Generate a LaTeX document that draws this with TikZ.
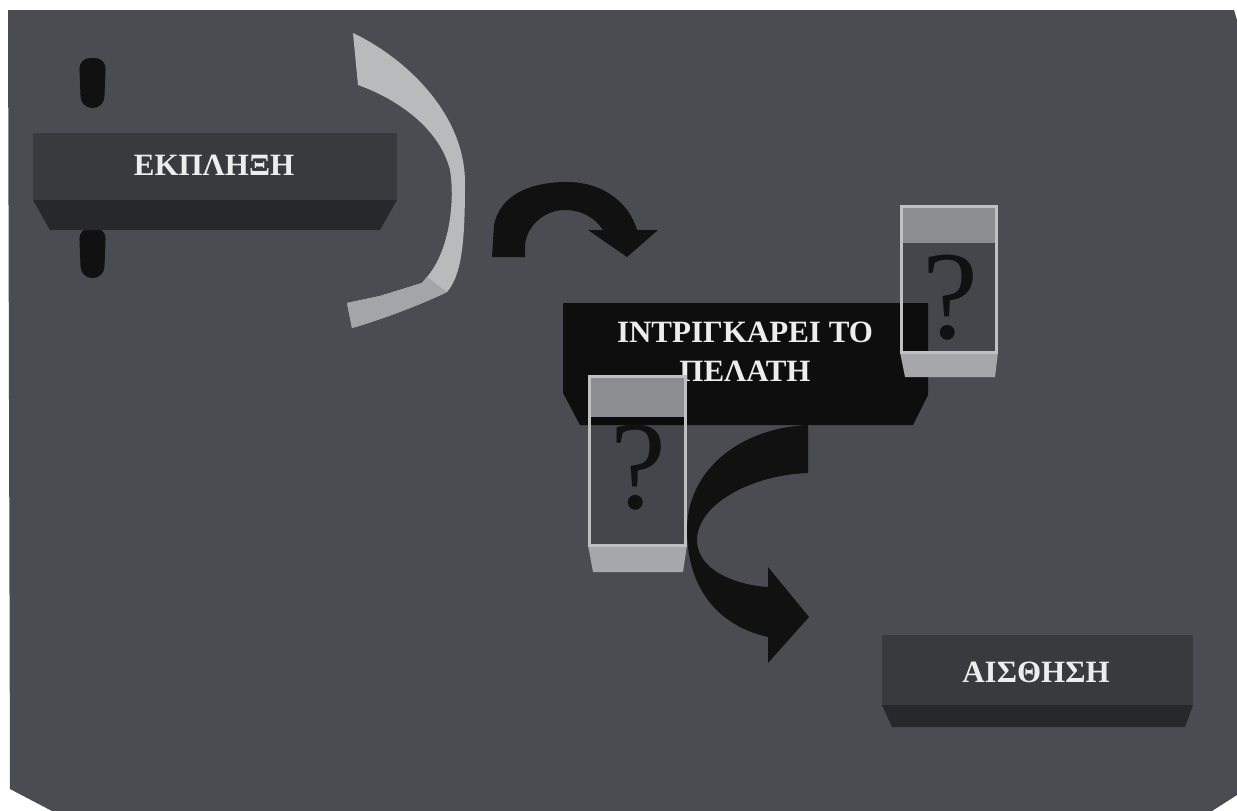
\documentclass[tikz,border=0pt]{standalone}
\usepackage{fontspec}
\setmainfont{Liberation Serif}
\definecolor{panel}{HTML}{4A4C52}
\definecolor{boxtop}{HTML}{393A3E}
\definecolor{boxbev}{HTML}{27282B}
\definecolor{ribbon}{HTML}{B9BABC}
\definecolor{ribbondk}{HTML}{A4A5A8}
\definecolor{qborder}{HTML}{BFC0C2}
\definecolor{qtop}{HTML}{8C8D90}
\definecolor{qbot}{HTML}{A6A7AA}
\definecolor{arrowc}{HTML}{111111}
\definecolor{txt}{HTML}{EDEDED}
\tikzset{
  lbl/.style={text=txt, font=\fontsize{31}{39}\selectfont\bfseries, align=center, inner sep=0pt},
  qm/.style={text=arrowc, font=\fontsize{126}{126}\selectfont, inner sep=0pt},
  bentarrow/.style={fill=arrowc},
  pillar/.style={fill=arrowc, rounded corners=11pt}
}
\begin{document}
\begin{tikzpicture}[x=1pt,y=-1pt]
\useasboundingbox (0,0) rectangle (1237,811);
\fill[white] (0,0) rectangle (1237,811);
% panel
\fill[panel] (8,10) -- (1234,10) -- (1237,20) -- (1237,795) -- (1212,811) -- (52,811) -- (10,789) -- cycle;

% pillars
\fill[pillar] (79,58) -- (106,58) -- (104,108) -- (81,108) -- cycle;
\fill[pillar] (79,228) -- (106,228) -- (104,278) -- (81,278) -- cycle;

% box 1
\fill[boxtop, rounded corners=2pt] (33,133) rectangle (397,202);
\fill[boxbev] (33,200) -- (397,200) -- (380,230) -- (50,230) -- cycle;
\node[lbl] (ekp) at (214,165) {ΕΚΠΛΗΞΗ};

% ribbon
\fill[ribbon] (353,33) .. controls (400,55) and (465,110) .. (465,183)
  .. controls (465,240) and (462,275) .. (447,292)
  .. controls (420,305) and (380,320) .. (352,328)
  -- (347,303) -- (380,296) -- (422,283) -- (427,277)
  .. controls (450,250) and (455,200) .. (450,170)
  .. controls (440,130) and (400,100) .. (358,85) -- cycle;
\fill[ribbondk] (352,328) -- (347,303) -- (380,296) -- (422,283) -- (427,277) -- (447,292)
  .. controls (420,305) and (380,320) .. (352,328) -- cycle;

% top bent arrow
\fill[bentarrow] (492,257) -- (494,225) .. controls (500,195) and (530,182) .. (567,182)
  .. controls (605,182) and (630,205) .. (637,230) -- (658,230) -- (627,257) -- (588,230) -- (603,230)
  .. controls (595,218) and (582,210) .. (565,210)
  .. controls (545,210) and (527,225) .. (525,245) -- (525,257) -- cycle;

% lower bent arrow
\fill[bentarrow] (808,425) -- (808,473) .. controls (750,475) and (697,505) .. (697,540)
  .. controls (697,570) and (735,585) .. (768,587) -- (768,567) -- (809,617) -- (768,663) -- (768,637)
  .. controls (715,625) and (687,585) .. (687,530)
  .. controls (687,470) and (740,428) .. (808,425) -- cycle;

% black box
\fill[arrowc!80!black] (563,303) -- (928,303) -- (928,395) -- (913,425) -- (580,425) -- (563,393) -- cycle;
\node[lbl] (intr) at (745,352) {ΙΝΤΡΙΓΚΑΡΕΙ ΤΟ\\ΠΕΛΑΤΗ};

% right question box
\fill[qtop] (900,205) rectangle (998,243);
\fill[black, opacity=0.08] (900,243) rectangle (998,352);
\fill[qbot] (900,352) -- (998,352) -- (995,377) -- (905,377) -- cycle;
\draw[qborder, line width=3pt] (901.5,352) -- (901.5,206.5) -- (996.5,206.5) -- (996.5,352) -- cycle;
\node[qm, anchor=base] (q1) at (950,338) {?};

% left question box
\fill[qtop] (588,375) rectangle (687,417);
\fill[black, opacity=0.08] (588,417) rectangle (687,545);
\fill[qbot] (588,545) -- (687,545) -- (683,572) -- (593,572) -- cycle;
\draw[qborder, line width=3pt] (589.5,545) -- (589.5,376.5) -- (685.5,376.5) -- (685.5,545) -- cycle;
\node[qm, anchor=base] (q2) at (638,508) {?};

% box 3
\fill[boxtop, rounded corners=2pt] (882,635) rectangle (1193,707);
\fill[boxbev] (882,705) -- (1193,705) -- (1185,727) -- (892,727) -- cycle;
\node[lbl] (aisth) at (1036,672) {ΑΙΣΘΗΣΗ};
\end{tikzpicture}
\end{document}
